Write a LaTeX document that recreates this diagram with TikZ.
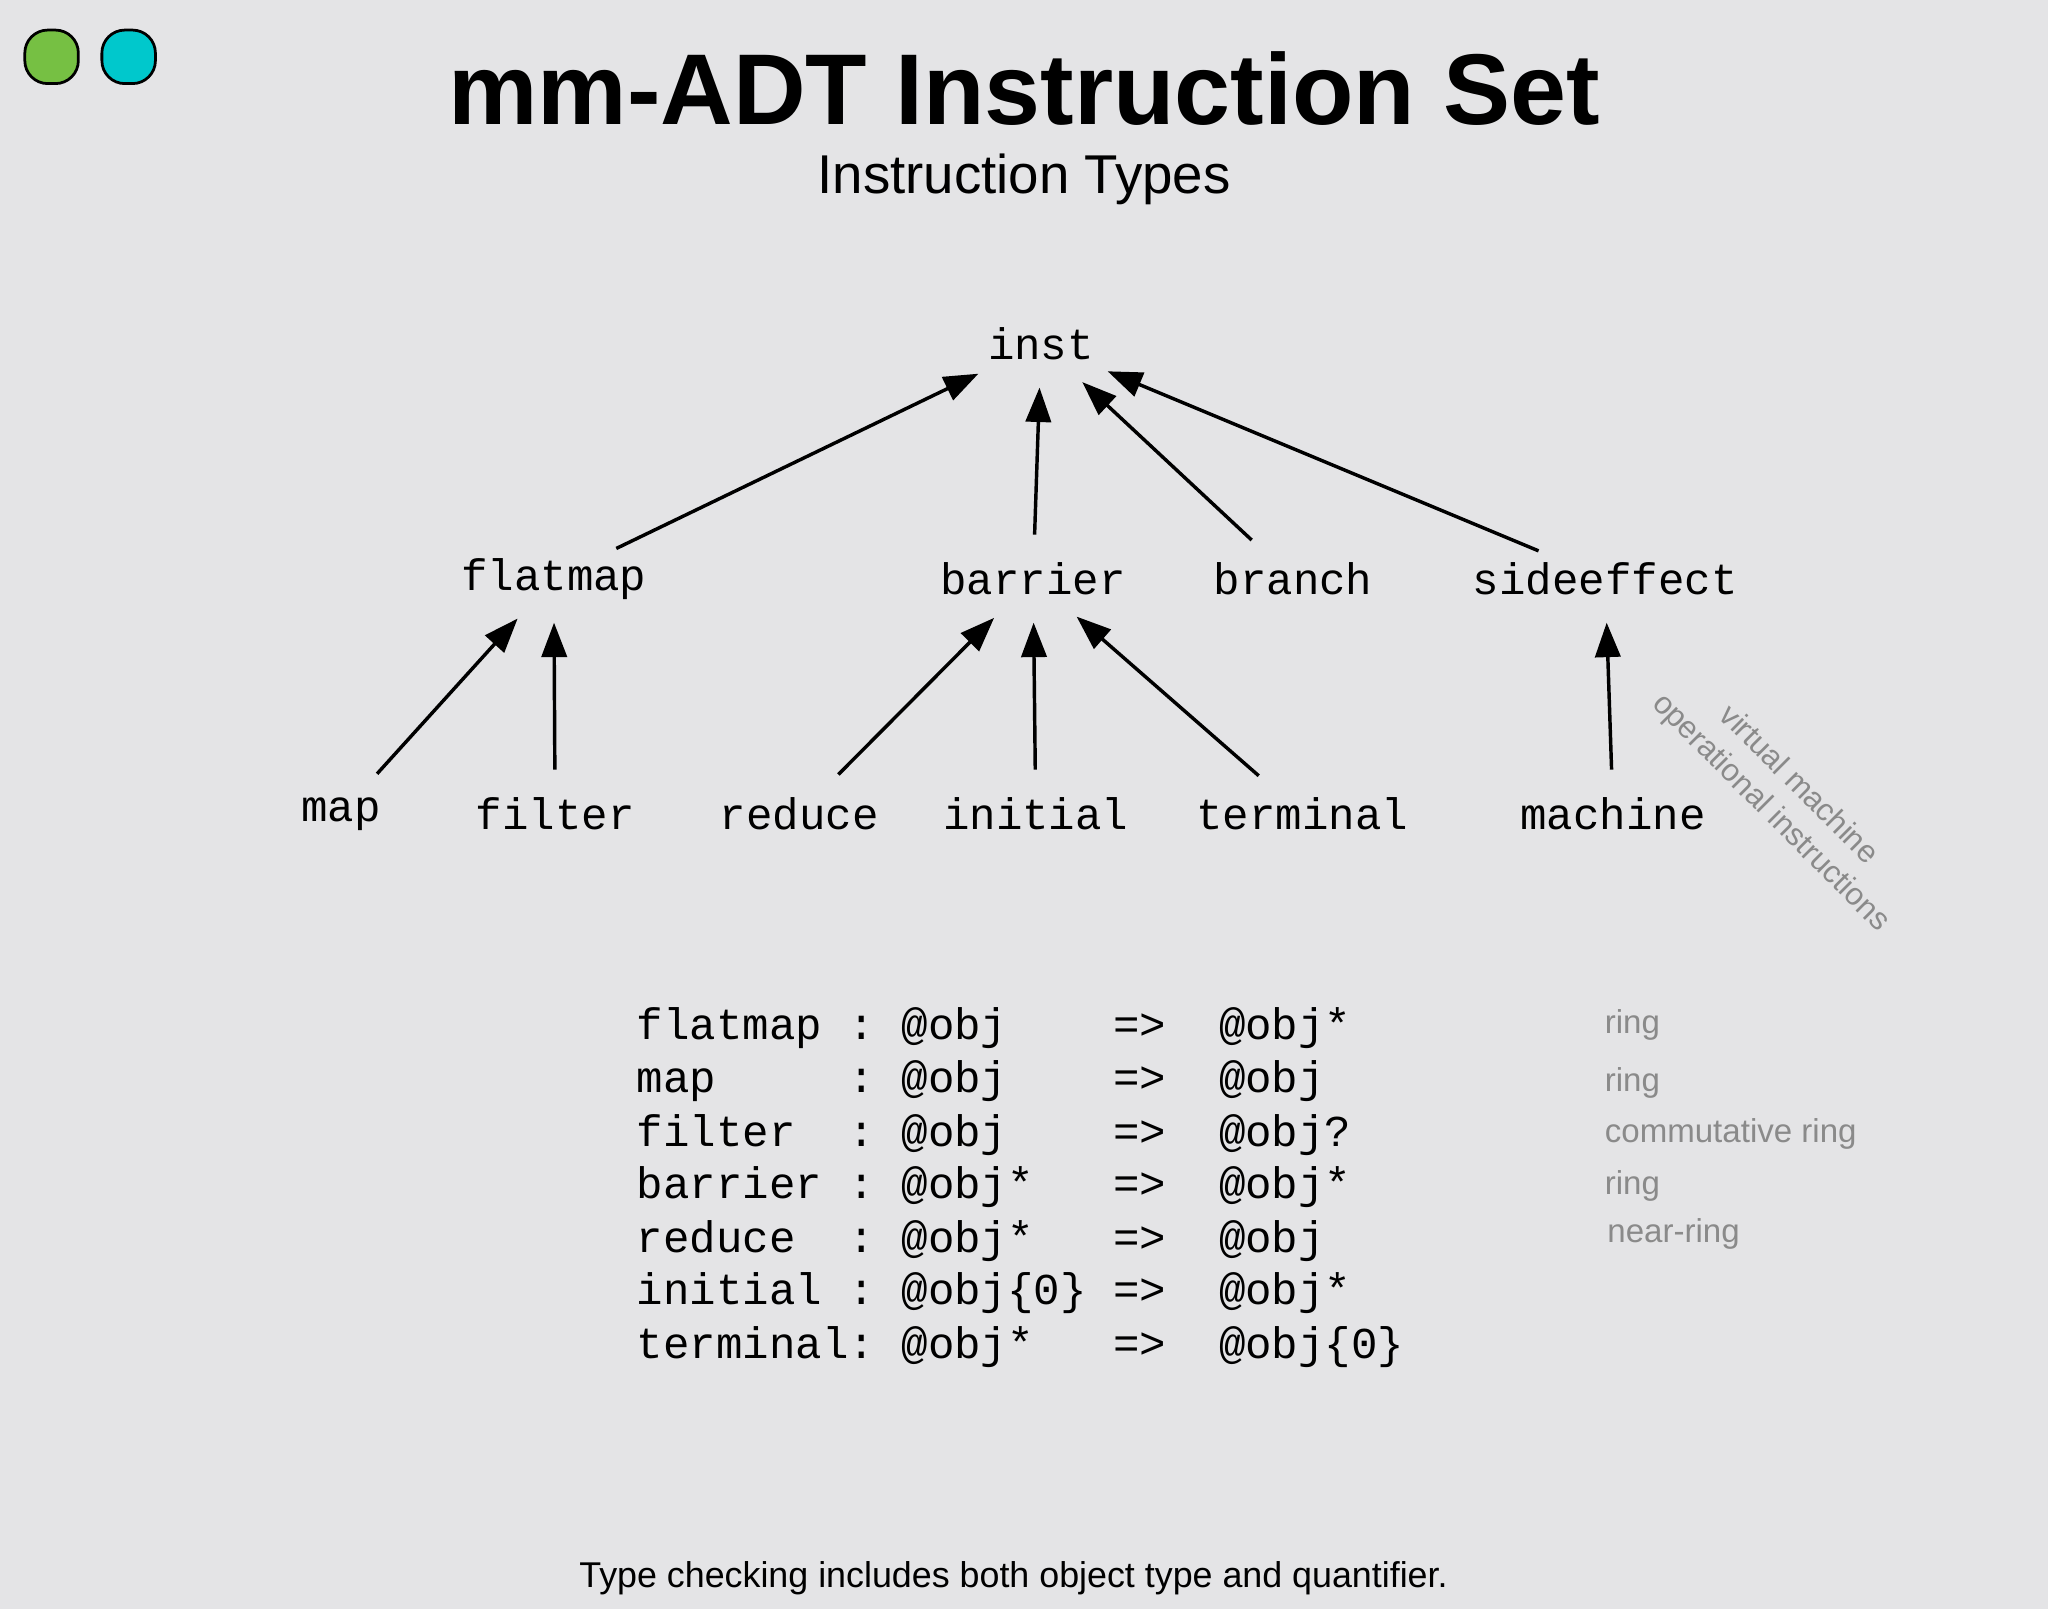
\documentclass[tikz,border=0pt]{standalone}
\usepackage{fontspec}
\setmainfont{Liberation Sans}
\setmonofont{Liberation Mono}
\usetikzlibrary{shapes.geometric,arrows.meta}
\definecolor{bg}{HTML}{E4E4E6}
\definecolor{gtxt}{HTML}{8A8A8A}
\definecolor{sqg}{HTML}{76C043}
\definecolor{sqc}{HTML}{00C8CC}
\tikzset{
 hub/.style={ellipse,minimum width=1.3cm,minimum height=0.66cm,inner sep=0},
 lbl/.style={font=\ttfamily\fontsize{9.6pt}{12pt}\selectfont},
 arr/.style={-{Triangle[length=7.5pt,width=5.5pt]},line width=0.75pt},
 row/.style={anchor=west,inner sep=0,font=\ttfamily\fontsize{9.6pt}{12pt}\selectfont},
 gl/.style={anchor=west,inner sep=0,text=gtxt,font=\fontsize{7.2pt}{9pt}\selectfont},
 sq/.style={draw=black,line width=0.6pt,rounded corners=5}
}
\begin{document}
\begin{tikzpicture}[x=0.01cm,y=-0.01cm]
\fill[bg] (0,0) rectangle (1568,1232);
\useasboundingbox (0,0) rectangle (1568,1232);
\filldraw[sq,fill=sqg] (19,23) rectangle (60,64);
\filldraw[sq,fill=sqc] (78,23) rectangle (119,64);
\node (title) at (784,68) {\fontsize{21.9pt}{26pt}\selectfont\bfseries mm-ADT Instruction Set};
\node (sub) at (784,137) {\fontsize{11.9pt}{14pt}\selectfont Instruction Types};
\node[hub,label={[lbl]center:inst}] (inst) at (797,263) {};
\node[hub,label={[lbl]center:flatmap}] (flatmap) at (424,443) {};
\node[hub,label={[lbl]center:barrier}] (barrier) at (791,443) {};
\node[hub,label={[lbl]center:branch}] (branch) at (990,443) {};
\node[hub,label={[lbl]center:sideeffect}] (sideeffect) at (1229,443) {};
\node[hub,label={[lbl]center:map}] (map) at (261,623) {};
\node[hub,label={[lbl]center:filter}] (filter) at (425,623) {};
\node[hub,label={[lbl]center:reduce}] (reduce) at (612,623) {};
\node[hub,label={[lbl]center:initial}] (initial) at (793,623) {};
\node[hub,label={[lbl]center:terminal}] (terminal) at (997,623) {};
\node[hub,label={[lbl]center:machine}] (machine) at (1235,623) {};
\draw[arr] (flatmap) -- (inst);
\draw[arr] (barrier) -- (inst);
\draw[arr] (branch) -- (inst);
\draw[arr] (sideeffect) -- (inst);
\draw[arr] (map) -- (flatmap);
\draw[arr] (filter) -- (flatmap);
\draw[arr] (reduce) -- (barrier);
\draw[arr] (initial) -- (barrier);
\draw[arr] (terminal) -- (barrier);
\draw[arr] (machine) -- (sideeffect);
\node[rotate=-45,align=center,text=gtxt,font=\fontsize{6.8pt}{8.5pt}\selectfont] (vm) at (1366,612) {virtual machine\\operational instructions};
\node[row] (r1) at (487,787) {flatmap :~@obj~~~~=>~~@obj*};
\node[row] (r2) at (487,828) {map~~~~~:~@obj~~~~=>~~@obj};
\node[row] (r3) at (487,869) {filter~~:~@obj~~~~=>~~@obj?};
\node[row] (r4) at (487,909) {barrier :~@obj*~~~=>~~@obj*};
\node[row] (r5) at (487,950) {reduce~~:~@obj*~~~=>~~@obj};
\node[row] (r6) at (487,990) {initial :~@obj\{0\}~=>~~@obj*};
\node[row] (r7) at (487,1031) {terminal:~@obj*~~~=>~~@obj\{0\}};
\node[gl] (g1) at (1228,785) {ring};
\node[gl] (g2) at (1228,829) {ring};
\node[gl] (g3) at (1228,868) {commutative ring};
\node[gl] (g4) at (1228,908) {ring};
\node[gl] (g5) at (1230,945) {near-ring};
\node (foot) at (776,1208) {\fontsize{7.8pt}{9pt}\selectfont Type checking includes both object type and quantifier.};
\end{tikzpicture}
\end{document}
